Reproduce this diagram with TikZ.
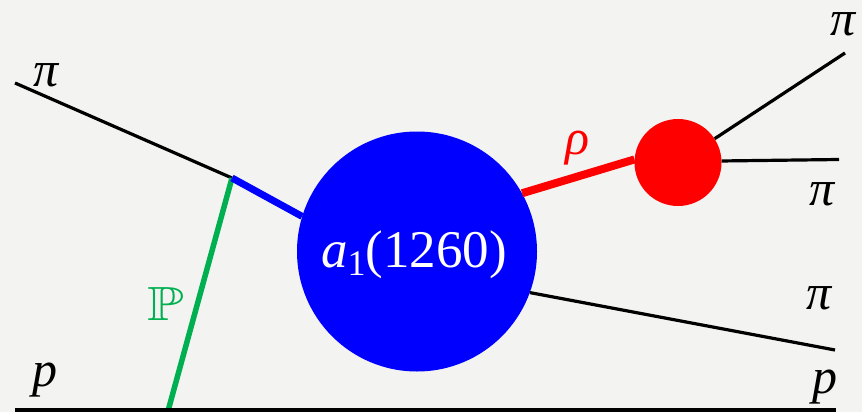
\RequirePackage{fix-cm}
\documentclass[tikz,border=0pt]{standalone}
\usepackage{amssymb}
\usepackage{fontspec}
\setmainfont{Liberation Serif}
\definecolor{paper}{HTML}{F3F3F2}
\definecolor{pomeron}{HTML}{00B050}
\tikzset{
  lab/.style={inner sep=0pt,font=\fontsize{50}{52}\selectfont\itshape},
  blob/.style={circle,inner sep=0pt,draw=none},
  thinline/.style={draw=black,line width=3.2pt},
}
\begin{document}
\begin{tikzpicture}[x=1pt,y=-1pt]
\fill[paper,use as bounding box] (0,0) rectangle (862,412);
\coordinate (inL) at (15,83);
\coordinate (vtx) at (232,178);
\coordinate (botL) at (15,410);
\coordinate (botR) at (836,410);
\coordinate (botV) at (168,411);
\coordinate (outA) at (845,53);
\coordinate (outB) at (839,159.5);
\coordinate (outC) at (835,350);
\node[blob,fill=blue,minimum size=240pt] (a1) at (417,251.5) {};
\node[blob,fill=red,minimum size=87pt] (rho) at (678,162.5) {};
\draw[thinline] (inL) -- (vtx);
\draw[draw=pomeron,line width=5.5pt] (vtx) -- (botV);
\draw[draw=blue,line width=7pt] (vtx) -- (a1.163.6);
\draw[draw=red,line width=8pt] (a1.29.8) -- (rho.176.5);
\draw[thinline] (rho.33.9) -- (outA);
\draw[thinline] (rho.2) -- (outB);
\draw[thinline] (a1.-20.6) -- (outC);
\draw[draw=black,line width=4pt] (botL) -- (botR);
\node[lab] (l1) at (46,75) {π};
\node[lab] (l2) at (45,380) {p};
\node[lab,text=pomeron,xscale=1.25,font=\fontsize{48}{50}\selectfont] (l3) at (166,304) {$\mathbb{P}$};
\node[lab,text=red] (l4) at (577,148) {ρ};
\node[lab] (l5) at (843,24) {π};
\node[lab] (l6) at (822,194) {π};
\node[lab] (l7) at (819,298) {π};
\node[lab] (l8) at (825,387) {p};
\node[lab,text=white,font=\fontsize{53}{55}\selectfont] (l9) at (414,255) {\textit{a}\raisebox{-8pt}{\fontsize{36}{38}\selectfont 1}(1260)};
\end{tikzpicture}
\end{document}
